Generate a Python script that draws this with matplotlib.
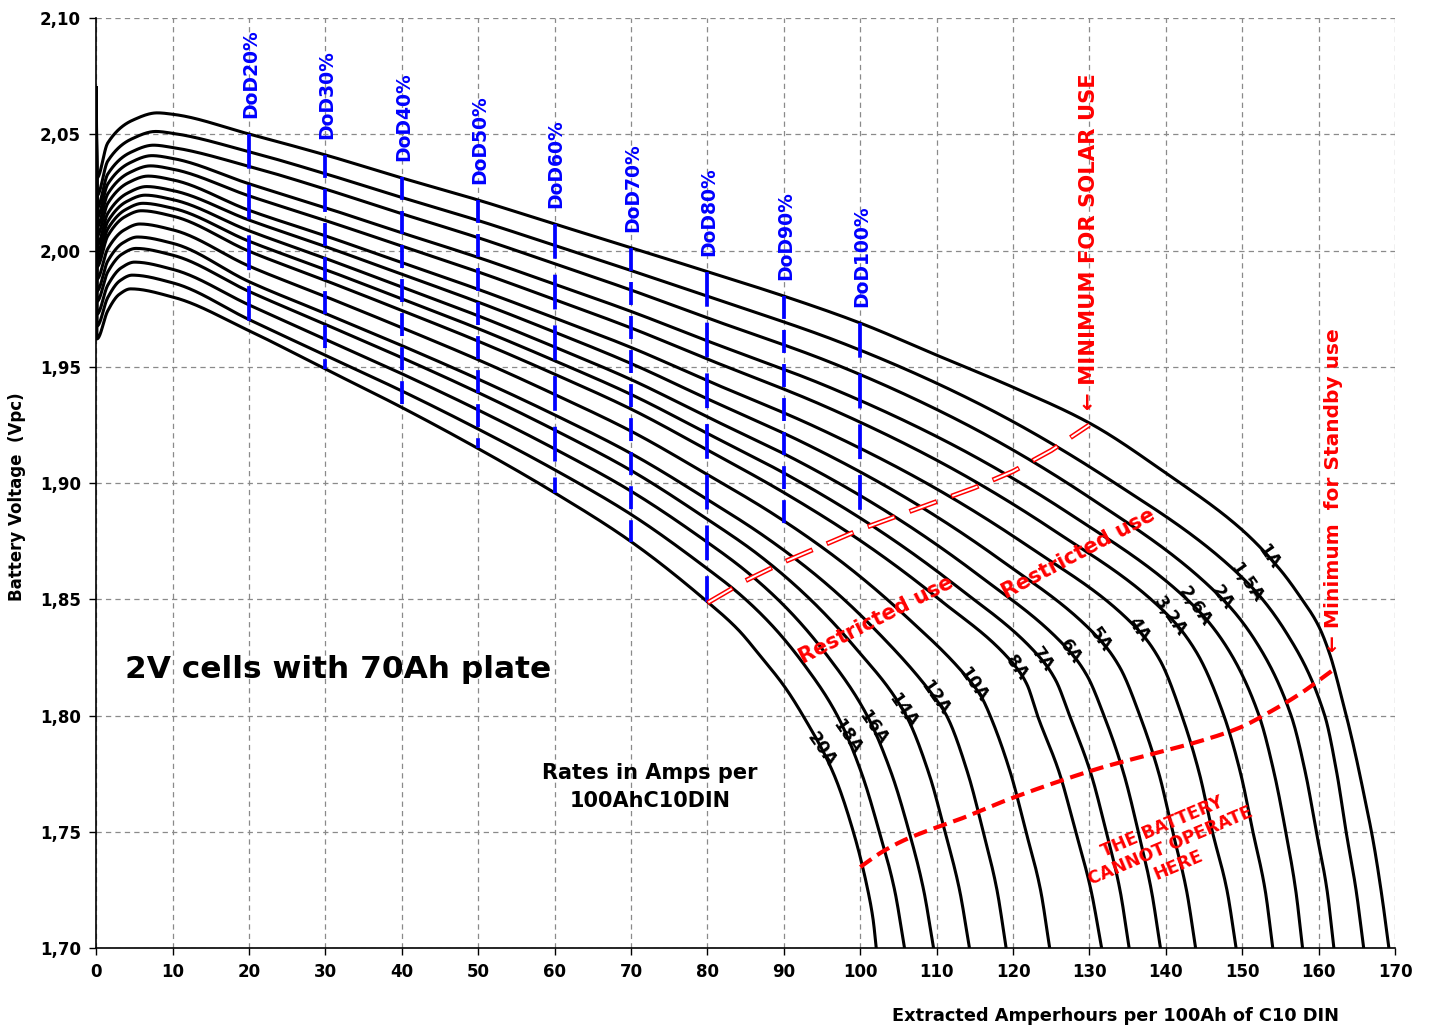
import numpy as np
import matplotlib
matplotlib.use("Agg")
import matplotlib.pyplot as plt
from matplotlib.ticker import FuncFormatter

plt.rcParams['font.family'] = ['DejaVu Sans']
plt.rcParams['lines.scale_dashes'] = False

# ---------------- data ----------------
CURVE_NAMES = ["1A", "1,5A", "2A", "2,6A", "3,2A", "4A", "5A", "6A", "7A", "8A",
               "10A", "12A", "14A", "16A", "18A", "20A"]

X_1A = [0, 0.1, 1.5, 4.75, 8, 10, 20, 30, 40, 50, 60, 70, 80, 90, 100, 110, 120, 130, 140, 150,
        155, 157.5, 160, 161.5, 163, 164.5, 166, 167.2, 168.3, 169.2]
V_1A = [2.070, 2.0312, 2.0462, 2.0560, 2.0592, 2.0586, 2.0501, 2.0411, 2.0312, 2.0217, 2.0114,
        2.0012, 1.9909, 1.9804, 1.9688, 1.9550, 1.9412, 1.9258, 1.9043, 1.8798, 1.8626, 1.8515,
        1.8385, 1.8260, 1.8080, 1.7880, 1.7650, 1.7450, 1.7220, 1.7000]

X_1_5A = [0, 0.1, 1.5, 4.65, 7.8, 10, 20, 30, 40, 50, 60, 70, 80, 97.65, 115.3, 132.95,
          150.6, 155.7, 160.8, 162.4, 163.6, 164.9, 165.9]
V_1_5A = [2.070, 2.0236, 2.0384, 2.0480, 2.0512, 2.0504, 2.0425, 2.0330, 2.0228, 2.0129, 2.0022,
          1.9914, 1.9803, 1.9602, 1.9345, 1.9008, 1.8574, 1.8360, 1.8000, 1.7750, 1.7500,
          1.7250, 1.7000]

X_2A = [0, 0.1, 1.5, 4.5, 7.5, 10, 20, 30, 40, 50, 60, 70, 80, 96.8, 113.65, 130.5,
        147.3, 151.85, 156.4, 158.3, 159.7, 161.1, 162.0]
V_2A = [2.070, 2.0182, 2.0328, 2.0422, 2.0453, 2.0443, 2.0362, 2.0264, 2.0158, 2.0055, 1.9943,
        1.9830, 1.9710, 1.9510, 1.9256, 1.8927, 1.8505, 1.8315, 1.8000, 1.7750, 1.7500,
        1.7250, 1.7000]

X_2_6A = [0, 0.1, 1.5, 4.4, 7.3, 10, 20, 30, 40, 50, 60, 70, 80, 95.95, 111.9, 127.85,
          143.8, 148.0, 152.2, 154.2, 155.7, 157.0, 157.9]
V_2_6A = [2.070, 2.0141, 2.0285, 2.0377, 2.0408, 2.0396, 2.0287, 2.0184, 2.0076, 1.9970, 1.9855,
          1.9738, 1.9611, 1.9412, 1.9168, 1.8858, 1.8467, 1.8293, 1.8000, 1.7750, 1.7500,
          1.7250, 1.7000]

X_3_2A = [0, 0.1, 1.5, 4.3, 7.1, 10, 20, 30, 40, 50, 60, 70, 80, 95.1, 110.25, 125.4,
          140.5, 144.05, 147.6, 149.8, 151.4, 153.0, 154.0]
V_3_2A = [2.070, 2.0101, 2.0243, 2.0334, 2.0364, 2.0350, 2.0235, 2.0129, 2.0019, 1.9908, 1.9789,
          1.9667, 1.9533, 1.9334, 1.9094, 1.8795, 1.8424, 1.8270, 1.8000, 1.7750, 1.7500,
          1.7250, 1.7000]

X_4A = [0, 0.1, 1.5, 4.15, 6.8, 10, 20, 30, 40, 50, 60, 70, 80, 94.1, 108.2, 122.3,
        136.4, 139.25, 142.1, 144.4, 146.1, 148.0, 149.2]
V_4A = [2.070, 2.0062, 2.0202, 2.0291, 2.0320, 2.0304, 2.0173, 2.0063, 1.9948, 1.9833, 1.9710,
        1.9583, 1.9440, 1.9242, 1.9008, 1.8721, 1.8368, 1.8237, 1.8000, 1.7750, 1.7500,
        1.7250, 1.7000]

X_5A = [0, 0.1, 1.5, 4.05, 6.6, 10, 20, 30, 40, 50, 60, 70, 80, 92.85, 105.7, 118.55,
        131.4, 134.0, 136.6, 139.1, 140.9, 142.7, 143.9]
V_5A = [2.070, 2.0021, 2.0159, 2.0246, 2.0275, 2.0258, 2.0131, 2.0017, 1.9898, 1.9778, 1.9649,
        1.9514, 1.9362, 1.9169, 1.8942, 1.8665, 1.8325, 1.8206, 1.8000, 1.7750, 1.7500,
        1.7250, 1.7000]

X_6A = [0, 0.1, 1.5, 3.95, 6.4, 10, 20, 30, 40, 50, 60, 70, 80, 91.9, 103.75, 115.6,
        127.5, 129.7, 131.9, 134.5, 136.4, 138.1, 139.3]
V_6A = [2.070, 1.9988, 2.0124, 2.0210, 2.0238, 2.0219, 2.0085, 1.9966, 1.9843, 1.9719, 1.9585,
        1.9445, 1.9284, 1.9094, 1.8871, 1.8601, 1.8273, 1.8171, 1.8000, 1.7750, 1.7500,
        1.7250, 1.7000]

X_7A = [0, 0.1, 1.5, 3.8, 6.1, 10, 20, 30, 40, 50, 60, 70, 80, 90.95, 101.9, 112.85,
        123.8, 125.6, 127.4, 130.2, 132.2, 134.0, 135.2]
V_7A = [2.070, 1.9958, 2.0092, 2.0175, 2.0203, 2.0182, 2.0040, 1.9918, 1.9792, 1.9664, 1.9526,
        1.9381, 1.9213, 1.9026, 1.8809, 1.8550, 1.8239, 1.8151, 1.8000, 1.7750, 1.7500,
        1.7250, 1.7000]

X_8A = [0, 0.1, 1.5, 3.7, 5.9, 10, 20, 30, 40, 50, 60, 70, 80, 90.1, 100.25, 110.4,
        120.5, 121.85, 123.2, 126.1, 128.2, 130.2, 131.6]
V_8A = [2.070, 1.9930, 2.0062, 2.0144, 2.0171, 2.0148, 1.9997, 1.9871, 1.9742, 1.9610, 1.9468,
        1.9318, 1.9142, 1.8957, 1.8747, 1.8498, 1.8204, 1.8132, 1.8000, 1.7750, 1.7500,
        1.7250, 1.7000]

X_10A = [0, 0.1, 1.5, 3.6, 5.7, 10, 20, 30, 40, 50, 60, 70, 80, 88.7, 97.4, 106.1,
         114.8, 115.9, 117.0, 119.7, 121.7, 123.6, 124.8]
V_10A = [2.070, 1.9877, 2.0007, 2.0087, 2.0114, 2.0089, 1.9933, 1.9802, 1.9668, 1.9530, 1.9381,
         1.9223, 1.9036, 1.8865, 1.8665, 1.8423, 1.8131, 1.8078, 1.8000, 1.7750, 1.7500,
         1.7250, 1.7000]

X_12A = [0, 0.1, 1.5, 3.45, 5.4, 10, 20, 30, 40, 50, 60, 70, 80, 87.45, 94.9, 102.35,
         109.8, 111.3, 114.1, 116.1, 117.9, 119.1]
V_12A = [2.070, 1.9826, 1.9954, 2.0032, 2.0058, 2.0031, 1.9866, 1.9729, 1.9591, 1.9447, 1.9293,
         1.9127, 1.8929, 1.8771, 1.8585, 1.8356, 1.8075, 1.8000, 1.7750, 1.7500, 1.7250, 1.7000]

X_14A = [0, 0.1, 1.5, 3.35, 5.2, 10, 20, 30, 40, 50, 60, 70, 80, 86.5, 93.0, 99.5,
         106.0, 109.0, 111.1, 113.0, 114.3]
V_14A = [2.070, 1.9781, 1.9907, 1.9984, 2.0009, 1.9980, 1.9824, 1.9682, 1.9539, 1.9389, 1.9228,
         1.9054, 1.8844, 1.8696, 1.8514, 1.8286, 1.8000, 1.7750, 1.7500, 1.7250, 1.7000]

X_16A = [0, 0.1, 1.5, 3.25, 5.0, 10, 20, 30, 40, 50, 60, 70, 80, 85.2, 90.45, 95.7,
         100.9, 104.1, 106.4, 108.3, 109.6]
V_16A = [2.070, 1.9726, 1.9850, 1.9925, 1.9950, 1.9919, 1.9766, 1.9618, 1.9470, 1.9314, 1.9147,
         1.8965, 1.8745, 1.8617, 1.8459, 1.8257, 1.8000, 1.7750, 1.7500, 1.7250, 1.7000]

X_18A = [0, 0.1, 1.5, 3.1, 4.7, 10, 20, 30, 40, 50, 60, 70, 80, 84.25, 88.5, 92.75,
         97.0, 100.2, 102.5, 104.5, 105.8]
V_18A = [2.070, 1.9675, 1.9797, 1.9870, 1.9894, 1.9861, 1.9703, 1.9549, 1.9396, 1.9232, 1.9057,
         1.8865, 1.8631, 1.8521, 1.8386, 1.8215, 1.8000, 1.7750, 1.7500, 1.7250, 1.7000]

X_20A = [0, 0.1, 1.5, 3.0, 4.5, 10, 20, 30, 40, 50, 60, 70, 80, 84, 87, 90.1, 92.5, 96.5,
         99.1, 100.9, 101.7, 102.1]
V_20A = [2.070, 1.9620, 1.9740, 1.9811, 1.9835, 1.9800, 1.9655, 1.9490, 1.9325, 1.9148, 1.8958,
         1.8748, 1.8489, 1.8370, 1.8253, 1.8124, 1.8000, 1.7751, 1.7500, 1.7264, 1.7120, 1.7000]

LABEL_X = [153.5, 150.6, 147.3, 143.8, 140.5, 136.4, 131.4, 127.5, 123.8, 120.5,
           114.8, 109.8, 105.6, 101.7, 98.3, 95.0]

# depth-of-discharge markers
DOD_PCT = [20, 30, 40, 50, 60, 70, 80, 90, 100]
DOD_TOP = [2.0501, 2.0411, 2.0315, 2.0217, 2.0114, 2.0012, 1.9909, 1.9804, 1.9687]
DOD_BOT = [1.9697, 1.9490, 1.9330, 1.9151, 1.8958, 1.8748, 1.8489, 1.8819, 1.8874]
DOD_LONG = [True, False, False, False, True, False, True, False, True]

# red knee line (minimum for solar use)
KNEE_X = [80, 85, 90, 95, 100, 105, 110, 115, 120, 125, 130]
KNEE_V = [1.8484, 1.858, 1.866, 1.873, 1.880, 1.886, 1.892, 1.898, 1.905, 1.914, 1.925]

# red dashed line (minimum for standby use)
STBY_X = [100.0, 102.8, 105.9, 109.1, 113.1, 118.3, 124.8, 131.4, 137.9, 144.5, 149.7, 153.6,
          157.6, 161.9]
STBY_V = [1.7348, 1.7412, 1.7466, 1.7508, 1.7555, 1.7625, 1.7703, 1.7774, 1.7832, 1.7890,
          1.7948, 1.8015, 1.8094, 1.8196]

CURVES_X = [X_1A, X_1_5A, X_2A, X_2_6A, X_3_2A, X_4A, X_5A, X_6A, X_7A, X_8A,
            X_10A, X_12A, X_14A, X_16A, X_18A, X_20A]
CURVES_V = [V_1A, V_1_5A, V_2A, V_2_6A, V_3_2A, V_4A, V_5A, V_6A, V_7A, V_8A,
            V_10A, V_12A, V_14A, V_16A, V_18A, V_20A]


def smooth_line(xs, ys, n=1500):
    """Monotone cubic (PCHIP) rendering of a polyline through the read points."""
    x = np.asarray(xs, float)
    y = np.asarray(ys, float)
    h = np.diff(x)
    d = np.diff(y) / h
    m = np.zeros_like(y)
    for k in range(1, len(x) - 1):
        if d[k - 1] * d[k] > 0:
            w1 = 2 * h[k] + h[k - 1]
            w2 = h[k] + 2 * h[k - 1]
            m[k] = (w1 + w2) / (w1 / d[k - 1] + w2 / d[k])
    m[0] = d[0]
    m[-1] = d[-1]
    xn = np.unique(np.concatenate([np.linspace(x[0], x[-1], n), x]))
    idx = np.clip(np.searchsorted(x, xn, side='right') - 1, 0, len(x) - 2)
    t = (xn - x[idx]) / h[idx]
    h00 = 2 * t ** 3 - 3 * t ** 2 + 1
    h10 = t ** 3 - 2 * t ** 2 + t
    h01 = -2 * t ** 3 + 3 * t ** 2
    h11 = t ** 3 - t ** 2
    yn = h00 * y[idx] + h10 * h[idx] * m[idx] + h01 * y[idx + 1] + h11 * h[idx] * m[idx + 1]
    return xn, yn


# ---------------- figure ----------------
fig = plt.figure(figsize=(14.3, 10.3), dpi=100)
ax = fig.add_axes([96.2 / 1430, 82 / 1030, (1395 - 96.2) / 1430, 930 / 1030])
ax.set_xlim(0, 170)
ax.set_ylim(1.70, 2.10)
ax.set_xticks(np.arange(0, 171, 10))
ax.set_yticks(np.arange(1.70, 2.1001, 0.05))
ax.yaxis.set_major_formatter(FuncFormatter(lambda v, p: f"{v:.2f}".replace('.', ',')))
ax.grid(True, color='#8a8a8a', linestyle=(0, (3.8, 3.0)), linewidth=0.9, zorder=0)
ax.set_axisbelow(True)
for s in ('top', 'right'):
    ax.spines[s].set_visible(False)
for s in ('left', 'bottom'):
    ax.spines[s].set_linewidth(1.2)
ax.tick_params(direction='out', length=5, width=1.0, labelsize=12, pad=6)
for lab in ax.get_xticklabels() + ax.get_yticklabels():
    lab.set_fontweight('bold')

# curves
for xs, vs in zip(CURVES_X, CURVES_V):
    sx, sy = smooth_line(xs, vs)
    ax.plot(sx, sy, color='black', lw=2.2, solid_joinstyle='round', zorder=3)

# curve labels
for name, lx, xs, vs in zip(CURVE_NAMES, LABEL_X, CURVES_X, CURVES_V):
    sx, sy = smooth_line(xs, vs)
    ly = np.interp(lx, sx, sy)
    ax.text(lx, ly, name, rotation=-55, rotation_mode='anchor', ha='center', va='center',
            fontsize=12.5, fontweight='bold', color='black', zorder=6)

# DoD markers
for p, top, bot, lng in zip(DOD_PCT, DOD_TOP, DOD_BOT, DOD_LONG):
    ls = (0, (25, 11.5)) if lng else (0, (16.5, 8))
    ax.plot([p, p], [top, bot], color='#0000ff', lw=2.7, linestyle=ls,
            dash_capstyle='butt', zorder=4)
    ax.text(p + 0.2, top + 0.0068, f"DoD{p}%", rotation=90, ha='center', va='bottom',
            color='#0000ff', fontsize=13.5, fontweight='bold', zorder=6)

# knee red double dashed line
ax.plot(KNEE_X, KNEE_V, color='#ff0000', lw=3.6, linestyle=(0, (21, 11)), zorder=5)
ax.plot(KNEE_X, KNEE_V, color='white', lw=1.4, linestyle=(-0.8, (19.4, 12.6)), zorder=5)

# standby red dashed line
sx, sy = smooth_line(STBY_X, STBY_V, 400)
ax.plot(sx, sy, color='#ff0000', lw=3.0, linestyle=(0, (10, 5)), zorder=5)

# annotations
ax.text(129.9, 1.9314, "\u2190 MINIMUM FOR SOLAR USE", rotation=90, ha='center', va='bottom',
        color='#ff0000', fontsize=15.2, fontweight='bold', zorder=6)
ax.text(161.9, 1.8273, "\u2190 Minimum  for Standby use", rotation=90, ha='center', va='bottom',
        color='#ff0000', fontsize=14.5, fontweight='bold', zorder=6)
ax.text(102.1, 1.8411, "Restricted use", rotation=27, rotation_mode='anchor', ha='center',
        va='center', color='#ff0000', fontsize=15, fontweight='bold', zorder=6)
ax.text(128.6, 1.8698, "Restricted use", rotation=28, rotation_mode='anchor', ha='center',
        va='center', color='#ff0000', fontsize=15, fontweight='bold', zorder=6)
ax.text(140.6, 1.7440, "THE BATTERY\nCANNOT OPERATE\nHERE", rotation=23, rotation_mode='anchor',
        ha='center', va='center', multialignment='center', linespacing=1.2,
        color='#ff0000', fontsize=12.5, fontweight='bold', zorder=6)
ax.text(3.8, 1.8196, "2V cells with 70Ah plate", ha='left', va='center', fontsize=22.5,
        fontweight='bold', color='black', zorder=6)
ax.text(72.5, 1.7692, "Rates in Amps per\n100AhC10DIN", ha='center', va='center',
        multialignment='center', linespacing=1.5, fontsize=15, fontweight='bold', zorder=6)

fig.text(17 / 1430, 1 - 497 / 1030, "Battery Voltage  (Vpc)", rotation=90, ha='center',
         va='center', fontsize=12, fontweight='bold')
fig.text(1115 / 1430, 1 - 1016 / 1030, "Extracted Amperhours per 100Ah of C10 DIN", ha='center',
         va='center', fontsize=12.8, fontweight='bold')

fig.savefig("out.png", dpi=100)
